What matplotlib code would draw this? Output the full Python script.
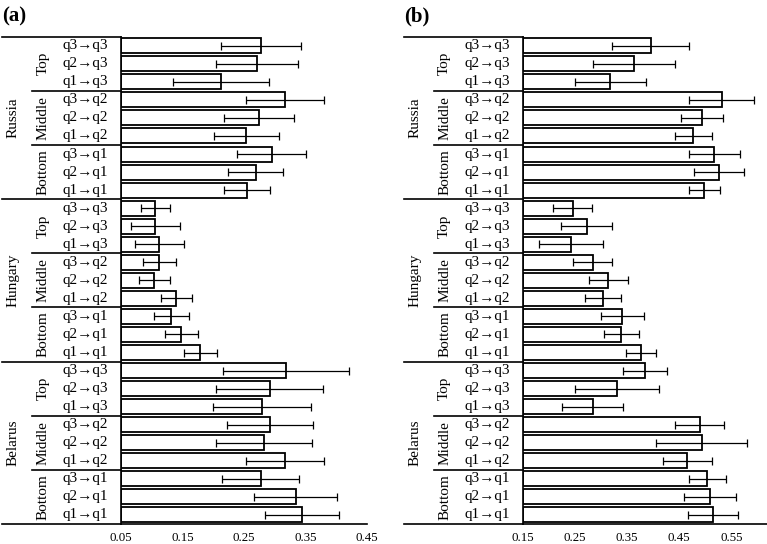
import matplotlib
matplotlib.use("Agg")
import matplotlib.pyplot as plt
import matplotlib.transforms as mtransforms
import numpy as np

plt.rcParams['font.family'] = ['Liberation Serif', 'DejaVu Serif']

FIG_W, FIG_H = 767, 544

countries = ["Russia", "Hungary", "Belarus"]
levels = ["Top", "Middle", "Bottom"]
transitions = [
    ["q3→q3", "q2→q3", "q1→q3"],
    ["q3→q2", "q2→q2", "q1→q2"],
    ["q3→q1", "q2→q1", "q1→q1"],
]

# Panel (a) values, top to bottom (Russia, Hungary, Belarus)
means_a = [0.278, 0.271, 0.212, 0.317, 0.275, 0.254, 0.295, 0.269, 0.255,
           0.106, 0.106, 0.112, 0.112, 0.104, 0.140, 0.132, 0.148, 0.179,
           0.318, 0.292, 0.279, 0.292, 0.282, 0.317, 0.277, 0.334, 0.344]
errs_a = [0.065, 0.066, 0.078, 0.063, 0.057, 0.053, 0.056, 0.045, 0.038,
          0.023, 0.040, 0.040, 0.027, 0.025, 0.025, 0.028, 0.027, 0.027,
          0.102, 0.087, 0.080, 0.070, 0.078, 0.063, 0.063, 0.068, 0.060]

# Panel (b) values, same order
means_b = [0.395, 0.363, 0.318, 0.531, 0.494, 0.477, 0.517, 0.526, 0.498,
           0.246, 0.273, 0.243, 0.284, 0.314, 0.304, 0.341, 0.339, 0.376,
           0.384, 0.331, 0.284, 0.489, 0.493, 0.465, 0.504, 0.509, 0.514]
errs_b = [0.074, 0.078, 0.068, 0.063, 0.040, 0.035, 0.049, 0.048, 0.030,
          0.037, 0.049, 0.061, 0.038, 0.037, 0.035, 0.041, 0.033, 0.029,
          0.042, 0.080, 0.058, 0.047, 0.087, 0.047, 0.035, 0.050, 0.048]

xticks_a = [0.05, 0.15, 0.25, 0.35, 0.45]
xticks_b = [0.15, 0.25, 0.35, 0.45, 0.55]


def draw_panel(fig, left_px, right_px, means, errs, xlim, xticks, tag):
    bottom_px, top_px = 524, 36.7
    ax = fig.add_axes([left_px / FIG_W, 1 - bottom_px / FIG_H,
                       (right_px - left_px) / FIG_W,
                       (bottom_px - top_px) / FIG_H])
    n = len(means)
    ypos = np.arange(n)[::-1]
    ax.barh(ypos, np.array(means) - xlim[0], left=xlim[0], height=0.83,
            color='white', edgecolor='black', linewidth=1.3, zorder=2)
    ax.errorbar(means, ypos, xerr=errs, fmt='none', ecolor='black',
                elinewidth=0.9, capsize=3, capthick=0.9, zorder=3)
    ax.set_xlim(*xlim)
    ax.set_ylim(-0.5, n - 0.5)
    ax.set_xticks(xticks)
    ax.set_xticklabels([f"{t:.2f}" for t in xticks], fontsize=9.3)
    ax.tick_params(axis='x', length=0, pad=6)
    ax.set_yticks([])
    for s in ['top', 'right']:
        ax.spines[s].set_visible(False)
    for s in ['left', 'bottom']:
        ax.spines[s].set_linewidth(1.2)

    # label table to the left of the axis
    tr = mtransforms.blended_transform_factory(fig.transFigure, ax.transData)
    fx = lambda px: (left_px + px) / FIG_W
    kw = dict(transform=tr, clip_on=False, color='black', lw=1.2)
    for y in [n - 0.5, 17.5, 8.5, -0.5]:
        ax.plot([fx(-119), fx(0)], [y, y], **kw)
    for y in [23.5, 20.5, 14.5, 11.5, 5.5, 2.5]:
        ax.plot([fx(-89), fx(0)], [y, y], **kw)

    idx = 0
    for ci, country in enumerate(countries):
        c_center = n - 1 - (ci * 9 + 4)
        ax.text(fx(-108), c_center, country, transform=tr, rotation=90,
                ha='center', va='center', fontsize=11)
        for li, level in enumerate(levels):
            l_center = n - 1 - (ci * 9 + li * 3 + 1)
            ax.text(fx(-78), l_center, level, transform=tr, rotation=90,
                    ha='center', va='center', fontsize=11)
            for lab in transitions[li]:
                ax.text(fx(-13), ypos[idx], lab, transform=tr,
                        ha='right', va='center', fontsize=11)
                idx += 1

    fig.text((left_px - 119) / FIG_W, 1 - 16 / FIG_H, tag,
             fontsize=15, fontweight='bold', ha='left', va='center')
    return ax


fig = plt.figure(figsize=(FIG_W / 100, FIG_H / 100), dpi=100)
draw_panel(fig, 121, 367, means_a, errs_a, (0.05, 0.45), xticks_a, "(a)")
draw_panel(fig, 522.7, 767, means_b, errs_b, (0.15, 0.618), xticks_b, "(b)")

fig.savefig("out.png", dpi=100)
